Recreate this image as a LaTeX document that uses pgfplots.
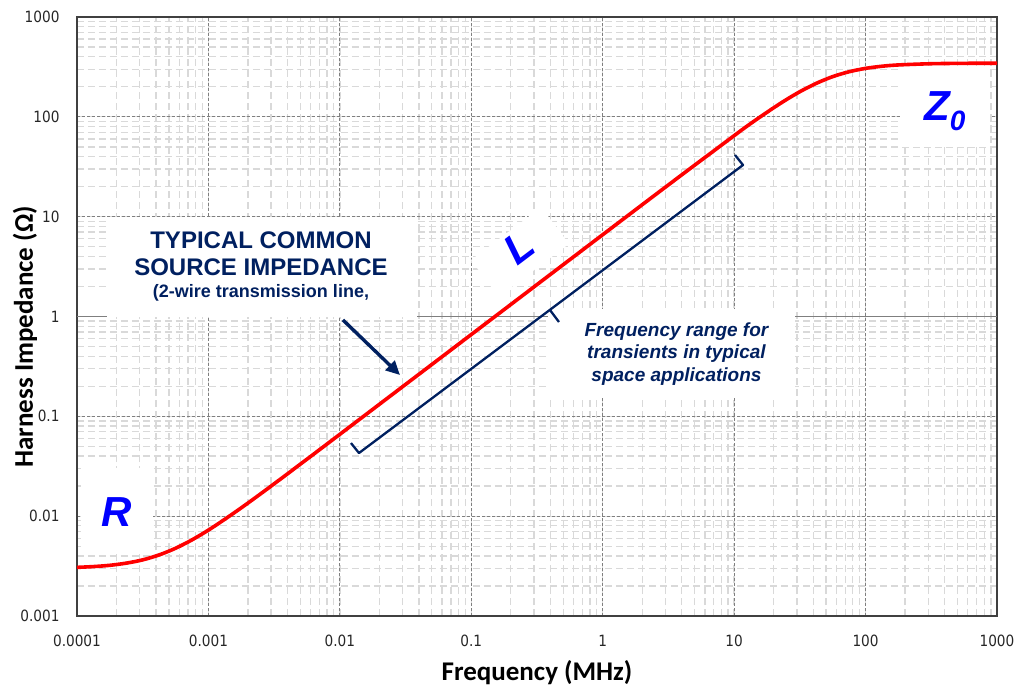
\documentclass[border=0pt]{standalone}
\usepackage{fontspec}
\setmainfont{Liberation Sans}
\newfontfamily\tickfont[FakeStretch=0.88]{DejaVu Sans}
\newfontfamily\labfont{Carlito}
\usepackage{pgfplots}
\pgfplotsset{compat=1.18}
\usetikzlibrary{arrows.meta}
\definecolor{navy}{HTML}{002060}
\definecolor{lblue}{HTML}{0000FF}
\definecolor{majgrid}{HTML}{7F7F7F}
\definecolor{mingrid}{HTML}{D9D9D9}
\begin{document}
\begin{tikzpicture}
\begin{axis}[
  xmode=log, ymode=log,
  scale only axis, width=920pt, height=599pt,
  xmin=1e-4, xmax=1000, ymin=1e-3, ymax=1000,
  xtick={1e-4,1e-3,0.01,0.1,1,10,100,1000},
  xticklabels={0.0001,0.001,0.01,0.1,1,10,100,1000},
  ytick={1e-3,0.01,0.1,1,10,100,1000},
  yticklabels={0.001,0.01,0.1,1,10,100,1000},
  ticklabel style={font=\tickfont\fontsize{15.5}{18}\selectfont, text=black!85},
  xticklabel style={anchor=center, yshift=-25pt},
  yticklabel style={anchor=east, xshift=-14pt},
  major tick length=0pt, minor tick length=0pt,
  grid=both,
  major grid style={dash pattern=on 3pt off 2pt, majgrid, line width=1.1pt},
  minor grid style={dash pattern=on 7pt off 4pt, mingrid, line width=1.3pt},
  extra y ticks={1}, extra y tick labels={},
  extra y tick style={grid=major, major grid style={solid, majgrid, line width=1.1pt}},
  axis line style={black!75, line width=1.3pt},
  xlabel={Frequency (MHz)},
  ylabel={Harness Impedance (Ω)},
  every axis x label/.style={at={(rel axis cs:0.5,-0.0952)}, anchor=center, font=\labfont\bfseries\fontsize{27}{30}\selectfont},
  every axis y label/.style={at={(rel axis cs:-0.0565,0.466)}, anchor=center, rotate=90, font=\labfont\bfseries\fontsize{27}{30}\selectfont},
  clip=false,
]
\coordinate (bl) at (rel axis cs:0,0);
\coordinate (tr) at (rel axis cs:1,1);
% white boxes behind annotations
\fill[white] (rel axis cs:0.0326,0.4992) rectangle (rel axis cs:0.3696,0.6661);
\fill[white] (rel axis cs:0.004,0.1102) rectangle (rel axis cs:0.0826,0.2471);
\fill[white] (rel axis cs:0.8946,0.7830) rectangle (rel axis cs:0.9924,0.9165);
\fill[white] (rel axis cs:0.5120,0.3656) rectangle (rel axis cs:0.7804,0.5130);
\node[fill=white, rotate=37, minimum width=88pt, minimum height=46pt, inner sep=0pt] at (rel axis cs:0.4815,0.6077) {};
% impedance curve
\addplot[red, line width=3.6pt, smooth] coordinates {
 (0.0001,0.00307) (0.000133,0.003126) (0.000178,0.00322) (0.000237,0.003384)
 (0.000316,0.00365) (0.000422,0.004092) (0.000562,0.00477) (0.00075,0.005788)
 (0.001,0.00725) (0.00133,0.009297) (0.00178,0.01213) (0.00237,0.01593)
 (0.00316,0.02107) (0.00562,0.03722) (0.01,0.06607) (0.1,0.66) (1,6.6)
 (3.16,20.8) (10,64.8) (13.3,85.3) (17.8,111.2) (23.7,142.5) (31.6,178.5)
 (42.2,216.6) (56.2,252.7) (75,283.0) (100,305.8) (133.4,321.2) (178,331)
 (316,340.4) (562,343.5) (1000,344.5)
};
% bracket
\draw[navy, line width=2.3pt, line join=round]
  (rel axis cs:0.2978,0.2888) -- (rel axis cs:0.3065,0.2721) -- (rel axis cs:0.7239,0.7529) -- (rel axis cs:0.7152,0.7696);
\draw[navy, line width=2.3pt] (rel axis cs:0.5141,0.5109) -- (rel axis cs:0.5239,0.4908);
% arrow
\draw[navy, line width=3.4pt, -{Triangle[length=14pt,width=13pt]}]
  (rel axis cs:0.2891,0.4942) -- (rel axis cs:0.3511,0.4023);
% texts
\node[text=navy, font=\bfseries\fontsize{24}{28}\selectfont] at (rel axis cs:0.2,0.6277) {TYPICAL COMMON};
\node[text=navy, font=\bfseries\fontsize{24}{28}\selectfont] at (rel axis cs:0.2,0.5826) {SOURCE IMPEDANCE};
\node[text=navy, font=\bfseries\fontsize{18}{20}\selectfont] at (rel axis cs:0.2,0.5392) {(2-wire transmission line,};
\node[text=navy, font=\bfseries\itshape\fontsize{19}{22}\selectfont] at (rel axis cs:0.6516,0.4741) {Frequency range for};
\node[text=navy, font=\bfseries\itshape\fontsize{19}{22}\selectfont] at (rel axis cs:0.6516,0.4374) {transients in typical};
\node[text=navy, font=\bfseries\itshape\fontsize{19}{22}\selectfont] at (rel axis cs:0.6516,0.3990) {space applications};
\node[text=lblue, font=\bfseries\itshape\fontsize{42}{42}\selectfont] at (rel axis cs:0.0435,0.1736) {R};
\node[text=lblue, rotate=37, font=\bfseries\itshape\fontsize{42}{42}\selectfont] at (rel axis cs:0.4804,0.616) {L};
\node[text=lblue, anchor=base west, inner sep=0pt, font=\bfseries\itshape\fontsize{42}{42}\selectfont] at (rel axis cs:0.9207,0.828) {Z\raisebox{-10pt}{\fontsize{28}{28}\selectfont 0}};
\end{axis}
\pgfresetboundingbox
\path[use as bounding box] ([xshift=-77pt,yshift=-76pt]bl) rectangle ([xshift=30pt,yshift=17pt]tr);
\end{tikzpicture}
\end{document}
